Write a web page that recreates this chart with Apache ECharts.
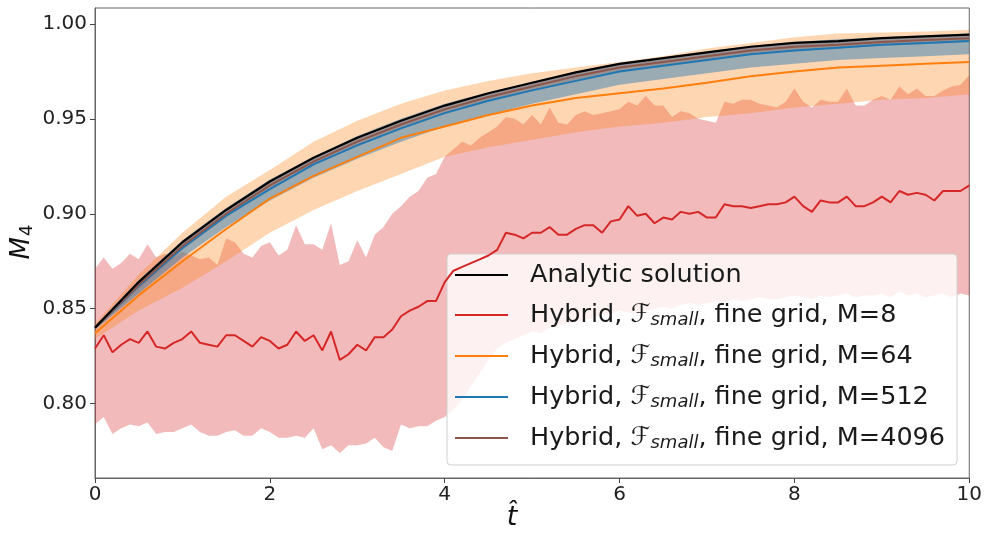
<!DOCTYPE html>
<html>
<head>
<meta charset="utf-8">
<script src="https://cdn.jsdelivr.net/npm/echarts@6/dist/echarts.min.js"></script>
<style>
  html, body { margin: 0; padding: 0; background: #fff; }
  #chart { width: 985px; height: 535px; }
</style>
</head>
<body>
<div id="chart"></div>
<script>
// time grids
const tFine = [0,0.1,0.2,0.3,0.4,0.5,0.6,0.7,0.8,0.9,1,1.1,1.2,1.3,1.4,1.5,1.6,1.7,1.8,1.9,2,2.1,2.2,2.3,2.4,2.5,2.6,2.7,2.8,2.9,3,3.1,3.2,3.3,3.4,3.5,3.6,3.7,3.8,3.9,4,4.1,4.2,4.3,4.4,4.5,4.6,4.7,4.8,4.9,5,5.1,5.2,5.3,5.4,5.5,5.6,5.7,5.8,5.9,6,6.1,6.2,6.3,6.4,6.5,6.6,6.7,6.8,6.9,7,7.1,7.2,7.3,7.4,7.5,7.6,7.7,7.8,7.9,8,8.1,8.2,8.3,8.4,8.5,8.6,8.7,8.8,8.9,9,9.1,9.2,9.3,9.4,9.5,9.6,9.7,9.8,9.9,10];
const tCoarse = [0,0.5,1,1.5,2,2.5,3,3.5,4,4.5,5,5.5,6,6.5,7,7.5,8,8.5,9,9.5,10];

// analytic solution
const analytic = [0.840,0.864,0.885,0.902,0.917,0.9295,0.940,0.949,0.957,0.9635,0.969,0.9745,0.979,0.982,0.985,0.988,0.990,0.991,0.9925,0.9935,0.9944];

// M=8 (mean and spread)
const m8Mean = [
  0.829,0.836,0.827,0.831,0.834,0.832,0.838,0.830,0.829,0.832,
  0.834,0.838,0.832,0.831,0.830,0.836,0.836,0.833,0.830,0.835,
  0.833,0.829,0.831,0.838,0.833,0.836,0.828,0.838,0.823,0.826,
  0.831,0.828,0.835,0.835,0.839,0.846,0.849,0.851,0.854,0.854,
  0.864,0.870,0.872,0.874,0.876,0.878,0.881,0.890,0.889,0.887,
  0.890,0.890,0.893,0.889,0.889,0.892,0.894,0.894,0.890,0.896,
  0.897,0.904,0.899,0.900,0.895,0.898,0.897,0.901,0.900,0.901,
  0.898,0.898,0.905,0.904,0.904,0.903,0.904,0.905,0.905,0.906,
  0.909,0.904,0.901,0.907,0.906,0.906,0.909,0.904,0.904,0.906,
  0.909,0.906,0.912,0.910,0.911,0.910,0.907,0.912,0.912,0.912,
  0.915];
const m8Upper = [
  0.871,0.877,0.871,0.874,0.879,0.876,0.884,0.877,0.879,0.877,
  0.880,0.878,0.876,0.877,0.873,0.887,0.885,0.879,0.877,0.883,
  0.885,0.878,0.881,0.894,0.884,0.884,0.881,0.895,0.873,0.875,
  0.886,0.877,0.889,0.893,0.900,0.904,0.909,0.912,0.919,0.921,
  0.930,0.934,0.938,0.936,0.940,0.943,0.946,0.951,0.950,0.947,
  0.952,0.947,0.956,0.948,0.947,0.952,0.954,0.952,0.953,0.954,
  0.955,0.959,0.957,0.962,0.957,0.957,0.951,0.954,0.953,0.950,
  0.949,0.948,0.959,0.958,0.960,0.960,0.958,0.957,0.956,0.959,
  0.966,0.959,0.956,0.960,0.959,0.959,0.966,0.957,0.957,0.960,
  0.962,0.960,0.967,0.963,0.966,0.962,0.962,0.965,0.967,0.968,
  0.973];
const m8Lower = [
  0.789,0.793,0.784,0.787,0.789,0.788,0.790,0.784,0.785,0.785,
  0.787,0.789,0.785,0.783,0.783,0.785,0.786,0.783,0.783,0.787,
  0.785,0.782,0.782,0.783,0.782,0.787,0.776,0.778,0.774,0.778,
  0.778,0.779,0.782,0.777,0.775,0.789,0.787,0.788,0.788,0.791,
  0.793,0.797,0.802,0.809,0.816,0.823,0.829,0.832,0.834,0.836,
  0.838,0.837,0.840,0.841,0.842,0.843,0.844,0.845,0.847,0.847,
  0.849,0.848,0.847,0.849,0.850,0.851,0.850,0.852,0.853,0.852,
  0.853,0.854,0.853,0.855,0.854,0.855,0.856,0.855,0.855,0.856,
  0.857,0.856,0.855,0.857,0.856,0.857,0.858,0.856,0.857,0.857,
  0.858,0.856,0.859,0.857,0.858,0.856,0.857,0.858,0.856,0.858,
  0.857];

// M=64
const m64Mean  = [0.837,0.857,0.875,0.892,0.908,0.920,0.930,0.940,0.946,0.952,0.957,0.961,0.9635,0.966,0.969,0.9725,0.975,0.977,0.978,0.979,0.980];
const m64Upper = [0.842,0.868,0.890,0.909,0.923,0.938,0.949,0.958,0.965,0.970,0.974,0.977,0.980,0.983,0.987,0.990,0.993,0.995,0.9955,0.996,0.997];
const m64Lower = [0.834,0.849,0.861,0.875,0.890,0.902,0.912,0.921,0.930,0.935,0.939,0.943,0.946,0.948,0.951,0.953,0.956,0.958,0.960,0.961,0.963];

// M=512
const m512Mean  = [0.840,0.862,0.882,0.899,0.913,0.926,0.936,0.945,0.953,0.9595,0.965,0.970,0.975,0.978,0.981,0.984,0.986,0.9875,0.989,0.990,0.991];
const m512Upper = [0.841,0.865,0.886,0.903,0.918,0.930,0.941,0.950,0.958,0.964,0.9695,0.975,0.9795,0.9825,0.9855,0.9885,0.9905,0.992,0.993,0.994,0.995];
const m512Lower = [0.839,0.858,0.877,0.893,0.907,0.919,0.929,0.938,0.946,0.952,0.958,0.963,0.968,0.971,0.974,0.977,0.979,0.981,0.982,0.983,0.984];

// M=4096
const m4096Mean  = [0.840,0.8625,0.883,0.900,0.915,0.9275,0.938,0.947,0.955,0.9615,0.967,0.9725,0.977,0.980,0.983,0.986,0.988,0.989,0.9905,0.9915,0.9925];
const m4096Upper = [0.841,0.8645,0.885,0.902,0.917,0.9295,0.940,0.949,0.957,0.9635,0.969,0.9745,0.979,0.982,0.985,0.988,0.990,0.991,0.9925,0.9935,0.9945];
const m4096Lower = [0.839,0.8605,0.881,0.898,0.913,0.9255,0.936,0.945,0.953,0.9595,0.965,0.9705,0.975,0.978,0.981,0.984,0.986,0.987,0.9885,0.9895,0.9905];

// axis ticks
const xTicks = [0, 2, 4, 6, 8, 10];
const yTicks = [0.80, 0.85, 0.90, 0.95, 1.00];

const seriesNames = ['Analytic solution', 'M=8', 'M=64', 'M=512', 'M=4096'];
const colors = {
  'Analytic solution': '#000000',
  'M=8': '#d62728',
  'M=64': '#ff7f0e',
  'M=512': '#1f77b4',
  'M=4096': '#8c564b'
};

const FONT = 'DejaVu Sans';

function pairs(ts, ys) { return ts.map((t, i) => [t, ys[i]]); }

// shaded band between lower and upper curves, drawn as one polygon
function band(name, ts, lo, hi, fill, z) {
  return {
    type: 'custom',
    name: name + ' band',
    z: z,
    silent: true,
    encode: { x: 0, y: [1, 2] },
    data: ts.map((t, i) => [t, lo[i], hi[i]]),
    renderItem: function (params, api) {
      if (params.dataIndex !== 0) return null;
      const pts = [];
      for (let i = 0; i < ts.length; i++) pts.push(api.coord([ts[i], hi[i]]));
      for (let i = ts.length - 1; i >= 0; i--) pts.push(api.coord([ts[i], lo[i]]));
      return { type: 'polygon', shape: { points: pts }, style: { fill: fill } };
    }
  };
}

function line(name, ts, ys, z, width) {
  return {
    type: 'line',
    name: name,
    z: z,
    data: pairs(ts, ys),
    symbol: 'none',
    silent: true,
    color: colors[name],
    lineStyle: { color: colors[name], width: width }
  };
}

const chart = echarts.init(document.getElementById('chart'), null, { renderer: 'canvas' });

const option = {
  animation: false,
  backgroundColor: '#ffffff',
  grid: {
    left: 95, right: 15, top: 8, bottom: 57,
    show: true, borderColor: '#666', borderWidth: 1, backgroundColor: 'transparent'
  },
  xAxis: {
    type: 'value', min: 0, max: 10, interval: 2,
    axisLine: { show: true, lineStyle: { color: '#666', width: 1 } },
    axisTick: { show: true, inside: false, length: 5, lineStyle: { color: '#444' }, customValues: xTicks },
    axisLabel: { fontFamily: FONT, fontSize: 20, color: '#222', margin: 7, customValues: xTicks },
    splitLine: { show: false }
  },
  yAxis: {
    type: 'value', min: 0.7608, max: 1.0084,
    axisLine: { show: true, lineStyle: { color: '#666', width: 1 } },
    axisTick: { show: true, inside: false, length: 5, lineStyle: { color: '#444' }, customValues: yTicks },
    axisLabel: {
      fontFamily: FONT, fontSize: 20, color: '#222', margin: 8, customValues: yTicks,
      formatter: v => v.toFixed(2)
    },
    splitLine: { show: false }
  },
  legend: {
    data: seriesNames,
    orient: 'vertical',
    left: 447, top: 254,
    padding: [8, 12, 13, 8],
    itemGap: 14,
    itemWidth: 53, itemHeight: 2,
    icon: 'rect',
    backgroundColor: 'rgba(255,255,255,0.8)',
    borderColor: '#d0d0d0', borderWidth: 1, borderRadius: 4,
    selectedMode: false,
    formatter: function (name) {
      if (name === 'Analytic solution') return '{t|Analytic solution}';
      return '{t|Hybrid, }{f|\u2131}{s|small}{t|, fine grid, ' + name + '}';
    },
    textStyle: {
      fontFamily: FONT, fontSize: 25.5, color: '#1a1a1a', padding: [0, 0, 0, 17],
      rich: {
        t: { fontFamily: FONT, fontSize: 25.5, color: '#1a1a1a' },
        f: { fontFamily: FONT, fontSize: 25.5, fontStyle: 'italic', color: '#1a1a1a' },
        s: { fontFamily: FONT, fontSize: 18, fontStyle: 'italic', color: '#1a1a1a', padding: [10, 0, 0, 0] }
      }
    }
  },
  graphic: [
    {
      type: 'text', x: 22, y: 242, rotation: Math.PI / 2,
      style: {
        text: '{m|M}{s|4}', align: 'center', verticalAlign: 'middle',
        rich: {
          m: { fontFamily: FONT, fontSize: 26, fontStyle: 'italic', fill: '#111' },
          s: { fontFamily: FONT, fontSize: 18, fill: '#111', padding: [10, 0, 0, 1] }
        }
      }
    },
    {
      type: 'text', x: 512, y: 518,
      style: {
        text: 't\u0302', align: 'center', verticalAlign: 'middle',
        fontFamily: FONT, fontSize: 27, fontStyle: 'italic', fill: '#111'
      }
    }
  ],
  series: [
    band('M=8', tFine, m8Lower, m8Upper, 'rgba(214,39,40,0.32)', 1),
    band('M=64', tCoarse, m64Lower, m64Upper, 'rgba(255,127,14,0.32)', 2),
    band('M=512', tCoarse, m512Lower, m512Upper, 'rgba(31,119,180,0.45)', 3),
    band('M=4096', tCoarse, m4096Lower, m4096Upper, 'rgba(140,86,75,0.3)', 4),
    line('M=8', tFine, m8Mean, 5, 2),
    line('M=64', tCoarse, m64Mean, 5, 2),
    line('M=512', tCoarse, m512Mean, 5, 2),
    line('M=4096', tCoarse, m4096Mean, 5, 2),
    line('Analytic solution', tCoarse, analytic, 6, 2.2)
  ]
};

chart.setOption(option);
</script>
</body>
</html>
